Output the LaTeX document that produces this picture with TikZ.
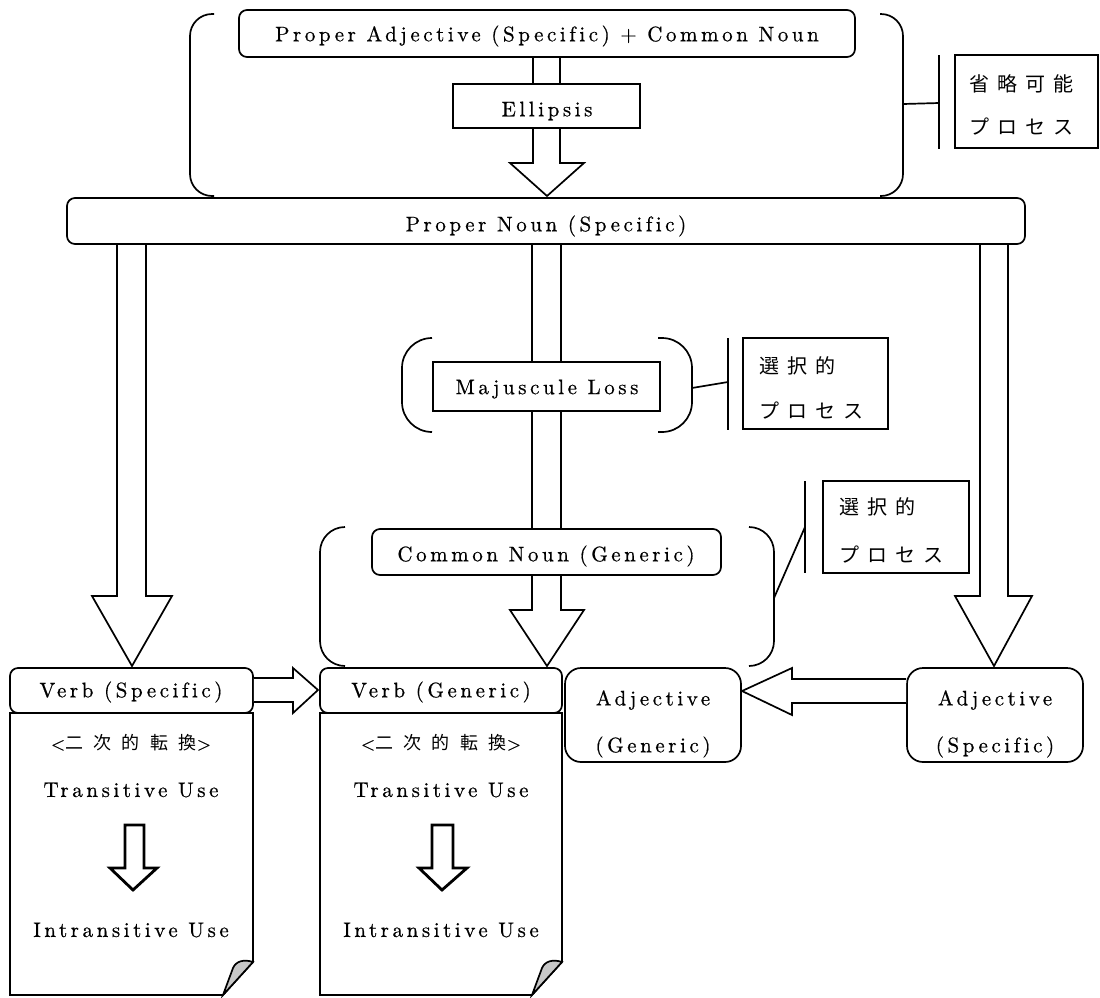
\documentclass[tikz,border=0pt]{standalone}
\usepackage{fontspec}
\setmainfont{lmroman10-regular.otf}[LetterSpace=17, Ligatures={NoCommon}, FakeBold=0.6]
\newfontfamily\jp{Noto Sans CJK JP}[LetterSpace=40]
\newfontfamily\jpd{Noto Sans CJK JP}[LetterSpace=58]
\begin{document}
\begin{tikzpicture}[x=1pt,y=-1pt,
  every node/.style={inner sep=0pt, font=\fontsize{21}{25}\selectfont},
  lw/.style={line width=1.7pt},
  box/.style={draw, lw, fill=white, rectangle},
  rbox/.style={box, rounded corners=8pt},
  abox/.style={box, rounded corners=16pt},
  barrow/.style={draw, lw, fill=white, line join=miter},
  sarrow/.style={draw, line width=2.8pt, fill=white, line join=miter},
  brk/.style={draw, lw},
  fold/.style={draw, lw, fill=black!22},
  txt/.style={},
  jtxt/.style={font=\fontsize{20}{24}\selectfont\jp, anchor=west},
  dtxt/.style={font=\fontsize{18}{24}\selectfont\jpd},
]
\useasboundingbox (0,0) rectangle (1100,997);

% ---------- block arrows (drawn first, boxes on top) ----------
\draw[barrow] (533,57) -- (533,163) -- (510,163) -- (547,196) -- (584,163) -- (560,163) -- (560,57);
\draw[barrow] (117,244) -- (117,596) -- (92,596) -- (132,666) -- (172,596) -- (146,596) -- (146,244);
\draw[barrow] (532,244) -- (532,610) -- (510,610) -- (547,666) -- (584,610) -- (561,610) -- (561,244);
\draw[barrow] (980,244) -- (980,596) -- (955,596) -- (994,666) -- (1032,596) -- (1008,596) -- (1008,244);

% ---------- top group ----------
\node[rbox, minimum width=616pt, minimum height=47pt] (pacn) at (547,33.5) {};
\node[txt] (pacnt) at (547,36) {Proper Adjective (Specific) + Common Noun};
\node[box, minimum width=187pt, minimum height=44pt] (ell) at (546.5,106) {};
\node[txt] (ellt) at (547,111) {Ellipsis};
\draw[brk, rounded corners=22pt] (214,14) -- (190,14) -- (190,196) -- (214,196);
\draw[brk, rounded corners=22pt] (880,14) -- (903,14) -- (903,196) -- (880,196);
\coordinate (b1) at (903,104);
\coordinate (l1) at (939,103);
\draw[lw] (b1) -- (l1);
\draw[lw] (939,55) -- (939,149);
\node[box, minimum width=143pt, minimum height=93pt] (lab1) at (1026.5,101.5) {};
\node[jtxt] (lab1a) at (969,84) {省略可能};
\node[jtxt] (lab1b) at (969,127) {プロセス};

% ---------- proper noun ----------
\node[rbox, minimum width=958pt, minimum height=46pt] (pn) at (546,221) {};
\node[txt] (pnt) at (546,226) {Proper Noun (Specific)};

% ---------- majuscule loss ----------
\node[box, minimum width=227pt, minimum height=49pt] (maj) at (546.5,386.5) {};
\node[txt] (majt) at (547,389) {Majuscule Loss};
\draw[brk, rounded corners=30pt] (432,338) -- (402,338) -- (402,432) -- (432,432);
\draw[brk, rounded corners=30pt] (658,338) -- (692,338) -- (692,432) -- (658,432);
\coordinate (b2) at (692,388);
\coordinate (l2) at (728,382);
\draw[lw] (b2) -- (l2);
\draw[lw] (728,338) -- (728,430);
\node[box, minimum width=145pt, minimum height=91pt] (lab2) at (815.5,383.5) {};
\node[jtxt] (lab2a) at (759,366) {選択的};
\node[jtxt] (lab2b) at (759,411) {プロセス};

% ---------- common noun ----------
\draw[brk, rounded corners=25pt] (345,527) -- (320,527) -- (320,666) -- (345,666);
\draw[brk, rounded corners=25pt] (749,527) -- (774,527) -- (774,666) -- (749,666);
\node[rbox, minimum width=349pt, minimum height=46pt] (cn) at (546.5,552) {};
\node[txt] (cnt) at (546,556) {Common Noun (Generic)};
\coordinate (b3) at (774,598);
\coordinate (l3) at (805,527);
\draw[lw] (b3) -- (l3);
\draw[lw] (805,481) -- (805,573);
\node[box, minimum width=146pt, minimum height=92pt] (lab3) at (896,527) {};
\node[jtxt] (lab3a) at (839,507) {選択的};
\node[jtxt] (lab3b) at (839,555) {プロセス};

% ---------- documents ----------
\draw[lw, fill=white] (10,713) -- (253,713) -- (253,962) -- (223,995) -- (10,995) -- cycle;
\draw[fold] (253,962) .. controls (244,959) and (236,961) .. (233,968) -- (223,995) -- cycle;
\draw[lw, fill=white] (320,713) -- (562,713) -- (562,962) -- (532,995) -- (320,995) -- cycle;
\draw[fold] (562,962) .. controls (553,959) and (545,961) .. (542,968) -- (532,995) -- cycle;

\node[rbox, minimum width=243pt, minimum height=45pt] (vs) at (131.5,690.5) {};
\node[txt] (vst) at (131,692) {Verb (Specific)};
\node[rbox, minimum width=242pt, minimum height=45pt] (vg) at (441,690.5) {};
\node[txt] (vgt) at (441,692) {Verb (Generic)};

\draw[barrow] (vs.east |- 0,678) -- (293,678) -- (293,668) -- (318,690) -- (293,713) -- (293,702) -- (vs.east |- 0,702);

\node[dtxt] (d1a) at (131,743) {{\rmfamily<}二次的転換{\rmfamily>}};
\node[txt] (d1b) at (131,790) {Transitive Use};
\draw[sarrow] (125,825) -- (125,868) -- (110,868) -- (133,890) -- (157,868) -- (144,868) -- (144,825) -- cycle;
\node[txt] (d1c) at (131,930) {Intransitive Use};

\node[dtxt] (d2a) at (441,743) {{\rmfamily<}二次的転換{\rmfamily>}};
\node[txt] (d2b) at (441,790) {Transitive Use};
\draw[sarrow] (432,825) -- (432,868) -- (419,868) -- (442,890) -- (467,868) -- (453,868) -- (453,825) -- cycle;
\node[txt] (d2c) at (441,930) {Intransitive Use};

% ---------- adjectives ----------
\node[abox, minimum width=176pt, minimum height=94pt] (ag) at (653,715) {};
\node[txt] (aga) at (653,700) {Adjective};
\node[txt] (agb) at (653,747) {(Generic)};
\node[abox, minimum width=176pt, minimum height=94pt] (as) at (995,715) {};
\node[txt] (asa) at (995,700) {Adjective};
\node[txt] (asb) at (995,747) {(Specific)};
\draw[barrow] (as.west |- 0,679) -- (792,679) -- (792,668) -- (742,691) -- (792,715) -- (792,703) -- (as.west |- 0,703);
\end{tikzpicture}
\end{document}
